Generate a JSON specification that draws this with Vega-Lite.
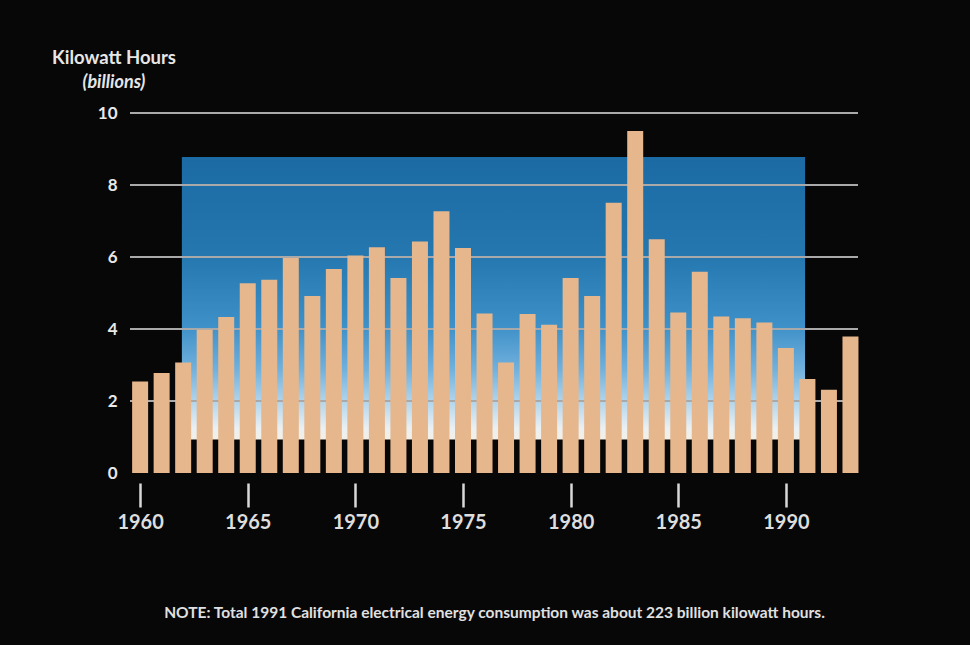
{
  "$schema": "https://vega.github.io/schema/vega-lite/v6.json",
  "width": 728,
  "height": 360,
  "autosize": {"type": "none"},
  "padding": {"left": 130, "top": 113, "right": 112, "bottom": 172},
  "background": "#070707",
  "config": {
    "view": {"stroke": null},
    "font": "Lato"
  },
  "title": {
    "text": "Kilowatt Hours",
    "subtitle": "(billions)",
    "anchor": "start",
    "frame": "group",
    "align": "center",
    "dx": -16,
    "offset": 12,
    "fontSize": 18.5,
    "fontWeight": "bold",
    "color": "#e6e6e6",
    "subtitleFontSize": 18,
    "subtitleFontStyle": "italic",
    "subtitleFontWeight": "bold",
    "subtitleColor": "#e6e6e6",
    "subtitlePadding": 7
  },
  "layer": [
    {
      "data": {"values": [{"start": 1961.94, "end": 1990.89, "low": 0.93, "high": 8.78}]},
      "mark": {
        "type": "rect",
        "fill": {
          "gradient": "linear",
          "x1": 0, "y1": 0, "x2": 0, "y2": 1,
          "stops": [
            {"offset": 0, "color": "#1b6aa3"},
            {"offset": 0.35, "color": "#2577b0"},
            {"offset": 0.6, "color": "#3e90c8"},
            {"offset": 0.75, "color": "#70b0dc"},
            {"offset": 0.87, "color": "#b4d6ec"},
            {"offset": 0.96, "color": "#eaf0f2"},
            {"offset": 1, "color": "#f4efe6"}
          ]
        }
      },
      "encoding": {
        "x": {
          "field": "start", "type": "quantitative",
          "scale": {"domain": [1959.53, 1993.35], "nice": false, "zero": false, "padding": 0},
          "axis": {
            "values": [1960, 1965, 1970, 1975, 1980, 1985, 1990],
            "format": "d",
            "title": "NOTE: Total 1991 California electrical energy consumption was about 223 billion kilowatt hours.",
            "titleFontSize": 15.5,
            "titleFontWeight": "bold",
            "titleColor": "#e0e0e0",
            "titlePadding": 73,
            "grid": false,
            "domain": false,
            "offset": 10,
            "tickSize": 24,
            "tickWidth": 2.5,
            "tickColor": "#d8d8d8",
            "labelColor": "#dedede",
            "labelFontSize": 20,
            "labelFontWeight": "bold",
            "labelPadding": 5
          }
        },
        "x2": {"field": "end"},
        "y": {
          "field": "high", "type": "quantitative",
          "scale": {"domain": [0, 10], "nice": false},
          "axis": {
            "values": [0, 2, 4, 6, 8, 10],
            "title": null,
            "grid": false,
            "ticks": false,
            "domain": false,
            "labelColor": "#e8e8e8",
            "labelFontSize": 17,
            "labelFontWeight": "bold",
            "labelPadding": 13
          }
        },
        "y2": {"field": "low"}
      }
    },
    {
      "data": {"values": [{"v": 2}, {"v": 4}, {"v": 6}, {"v": 8}, {"v": 10}]},
      "mark": {"type": "rule", "color": "#a9a9a9", "strokeWidth": 2},
      "encoding": {
        "y": {
          "field": "v", "type": "quantitative",
          "axis": {
            "values": [0, 2, 4, 6, 8, 10],
            "title": null,
            "grid": false,
            "ticks": false,
            "domain": false,
            "labelColor": "#e8e8e8",
            "labelFontSize": 17,
            "labelFontWeight": "bold",
            "labelPadding": 13
          }
        }
      }
    },
    {
      "data": {"values": [
        {"year": 1960, "kwh": 2.54},
        {"year": 1961, "kwh": 2.78},
        {"year": 1962, "kwh": 3.07},
        {"year": 1963, "kwh": 3.98},
        {"year": 1964, "kwh": 4.33},
        {"year": 1965, "kwh": 5.27},
        {"year": 1966, "kwh": 5.37},
        {"year": 1967, "kwh": 5.97},
        {"year": 1968, "kwh": 4.92},
        {"year": 1969, "kwh": 5.67},
        {"year": 1970, "kwh": 6.04},
        {"year": 1971, "kwh": 6.27},
        {"year": 1972, "kwh": 5.42},
        {"year": 1973, "kwh": 6.43},
        {"year": 1974, "kwh": 7.27},
        {"year": 1975, "kwh": 6.25},
        {"year": 1976, "kwh": 4.43},
        {"year": 1977, "kwh": 3.07},
        {"year": 1978, "kwh": 4.42},
        {"year": 1979, "kwh": 4.12},
        {"year": 1980, "kwh": 5.42},
        {"year": 1981, "kwh": 4.92},
        {"year": 1982, "kwh": 7.51},
        {"year": 1983, "kwh": 9.5},
        {"year": 1984, "kwh": 6.49},
        {"year": 1985, "kwh": 4.46},
        {"year": 1986, "kwh": 5.59},
        {"year": 1987, "kwh": 4.35},
        {"year": 1988, "kwh": 4.3},
        {"year": 1989, "kwh": 4.18},
        {"year": 1990, "kwh": 3.47},
        {"year": 1991, "kwh": 2.61},
        {"year": 1992, "kwh": 2.31},
        {"year": 1993, "kwh": 3.79}
      ]},
      "mark": {"type": "bar", "size": 16, "color": "#e6b68c"},
      "encoding": {
        "x": {
          "field": "year", "type": "quantitative",
          "axis": {
            "values": [1960, 1965, 1970, 1975, 1980, 1985, 1990],
            "format": "d",
            "title": "NOTE: Total 1991 California electrical energy consumption was about 223 billion kilowatt hours.",
            "titleFontSize": 15.5,
            "titleFontWeight": "bold",
            "titleColor": "#e0e0e0",
            "titlePadding": 73,
            "grid": false,
            "domain": false,
            "offset": 10,
            "tickSize": 24,
            "tickWidth": 2.5,
            "tickColor": "#d8d8d8",
            "labelColor": "#dedede",
            "labelFontSize": 20,
            "labelFontWeight": "bold",
            "labelPadding": 5
          }
        },
        "y": {
          "field": "kwh", "type": "quantitative",
          "axis": {
            "values": [0, 2, 4, 6, 8, 10],
            "title": null,
            "grid": false,
            "ticks": false,
            "domain": false,
            "labelColor": "#e8e8e8",
            "labelFontSize": 17,
            "labelFontWeight": "bold",
            "labelPadding": 13
          }
        }
      }
    }
  ]
}
